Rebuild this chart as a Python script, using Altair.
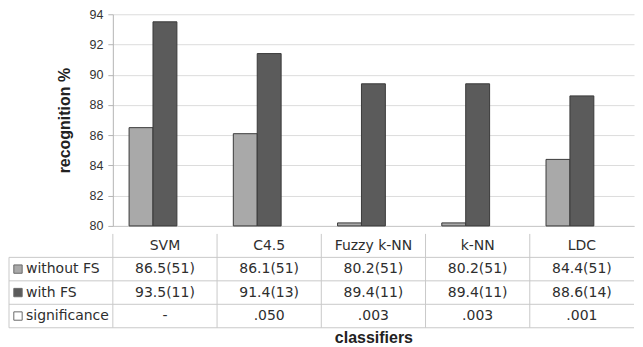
import altair as alt
import pandas as pd

classifiers = ["SVM", "C4.5", "Fuzzy k-NN", "k-NN", "LDC"]
series = ["without FS", "with FS", "significance"]
without_fs = [86.5, 86.1, 80.2, 80.2, 84.4]
with_fs = [93.5, 91.4, 89.4, 89.4, 88.6]
without_fs_labels = ["86.5(51)", "86.1(51)", "80.2(51)", "80.2(51)", "84.4(51)"]
with_fs_labels = ["93.5(11)", "91.4(13)", "89.4(11)", "89.4(11)", "88.6(14)"]
significance_labels = ["-", ".050", ".003", ".003", ".001"]
y_ticks = [80, 82, 84, 86, 88, 90, 92, 94]

fills = ["#a9a9a9", "#5b5b5b", "#ffffff"]
line_color = "#c9c9c9"
text_color = "#2e2e2e"

W, H_PLOT, H_TABLE = 522, 212, 94
LEFT_COL = 104
Y_MIN, Y_MAX = y_ticks[0], y_ticks[-1]

# ---- bar data
bar_rows = []
for c, a, b in zip(classifiers, without_fs, with_fs):
    bar_rows.append({"classifier": c, "series": series[0], "value": a, "base": Y_MIN})
    bar_rows.append({"classifier": c, "series": series[1], "value": b, "base": Y_MIN})
bar_df = pd.DataFrame(bar_rows)

fill_scale = alt.Scale(domain=series, range=fills)

bars = alt.Chart(bar_df).mark_bar(stroke="#3a3a3a", strokeWidth=1).encode(
    x=alt.X("classifier:N", sort=classifiers,
            scale=alt.Scale(domain=classifiers, paddingInner=0, paddingOuter=0),
            axis=alt.Axis(title=None, labels=False, ticks=False, grid=False,
                          domain=True, domainColor=line_color)),
    xOffset=alt.XOffset("series:N",
                        scale=alt.Scale(domain=series, paddingInner=0, paddingOuter=0.68)),
    y=alt.Y("value:Q",
            scale=alt.Scale(domain=[Y_MIN, Y_MAX], zero=False, nice=False),
            axis=alt.Axis(title="recognition %", values=y_ticks, grid=True,
                          gridColor="#dcdcdc", domainColor="#b5b5b5",
                          tickColor="#b5b5b5", tickSize=5, labelPadding=5,
                          labelFont="Liberation Sans", labelFontSize=12.5,
                          labelColor="#333333", titleFont="Liberation Sans",
                          titleFontSize=16, titleFontWeight="bold",
                          titleColor="#222222", titlePadding=16)),
    y2="base:Q",
    fill=alt.Fill("series:N", scale=fill_scale, legend=None),
).properties(width=W, height=H_PLOT)

# ---- table data
text_rows = []
for i, c in enumerate(classifiers):
    for r, t in enumerate([c, without_fs_labels[i], with_fs_labels[i], significance_labels[i]]):
        text_rows.append({"xc": i + 0.5, "yc": r + 0.5, "text": t})
text_df = pd.DataFrame(text_rows)

label_df = pd.DataFrame({"series": series, "yc": [1.5, 2.5, 3.5]})
hline_df = pd.DataFrame({"yb": [1, 2, 3, 4]})
vline_df = pd.DataFrame({"xb": list(range(len(classifiers)))})
border_df = pd.DataFrame({"y1": [1], "y2": [4]})

x_tab = alt.Scale(domain=[0, len(classifiers)], nice=False, zero=False)
y_tab = alt.Scale(domain=[4, 0], nice=False, zero=False)

x_axis_tab = alt.Axis(title="classifiers", labels=False, ticks=False, grid=False,
                      domain=False, titleFont="Liberation Sans", titleFontSize=16,
                      titleFontWeight="bold", titleColor="#222222", titlePadding=2)

cells = alt.Chart(text_df).mark_text(font="DejaVu Sans", fontSize=14, color=text_color).encode(
    x=alt.X("xc:Q", scale=x_tab, axis=x_axis_tab),
    y=alt.Y("yc:Q", scale=y_tab, axis=None),
    text="text:N",
)

hlines = alt.Chart(hline_df).mark_rule(color=line_color, strokeWidth=1).encode(
    y=alt.Y("yb:Q", scale=y_tab, axis=None),
    x=alt.value(-LEFT_COL), x2=alt.value(W),
)

vlines = alt.Chart(vline_df).mark_rule(color=line_color, strokeWidth=1).encode(
    x=alt.X("xb:Q", scale=x_tab, axis=x_axis_tab),
    y=alt.value(0), y2=alt.value(H_TABLE),
)

left_border = alt.Chart(border_df).mark_rule(color=line_color, strokeWidth=1).encode(
    x=alt.value(-LEFT_COL),
    y=alt.Y("y1:Q", scale=y_tab, axis=None), y2="y2:Q",
)

swatches = alt.Chart(label_df).mark_square(size=70, stroke="#6a6a6a", strokeWidth=1,
                                           opacity=1).encode(
    x=alt.value(-95),
    y=alt.Y("yc:Q", scale=y_tab, axis=None),
    fill=alt.Fill("series:N", scale=fill_scale, legend=None),
)

row_labels = alt.Chart(label_df).mark_text(align="left", font="DejaVu Sans", fontSize=14,
                                           color=text_color).encode(
    x=alt.value(-87),
    y=alt.Y("yc:Q", scale=y_tab, axis=None),
    text="series:N",
)

table = alt.layer(hlines, vlines, left_border, cells, swatches, row_labels).properties(
    width=W, height=H_TABLE)

chart = alt.vconcat(bars, table, spacing=0).resolve_scale(
    x="independent", y="independent"
).properties(
    padding={"left": 0, "top": 0, "right": 0, "bottom": 0},
    background="white",
).configure_view(strokeWidth=0)

chart.save("out.html", embed_options={"renderer": "svg", "actions": False})
